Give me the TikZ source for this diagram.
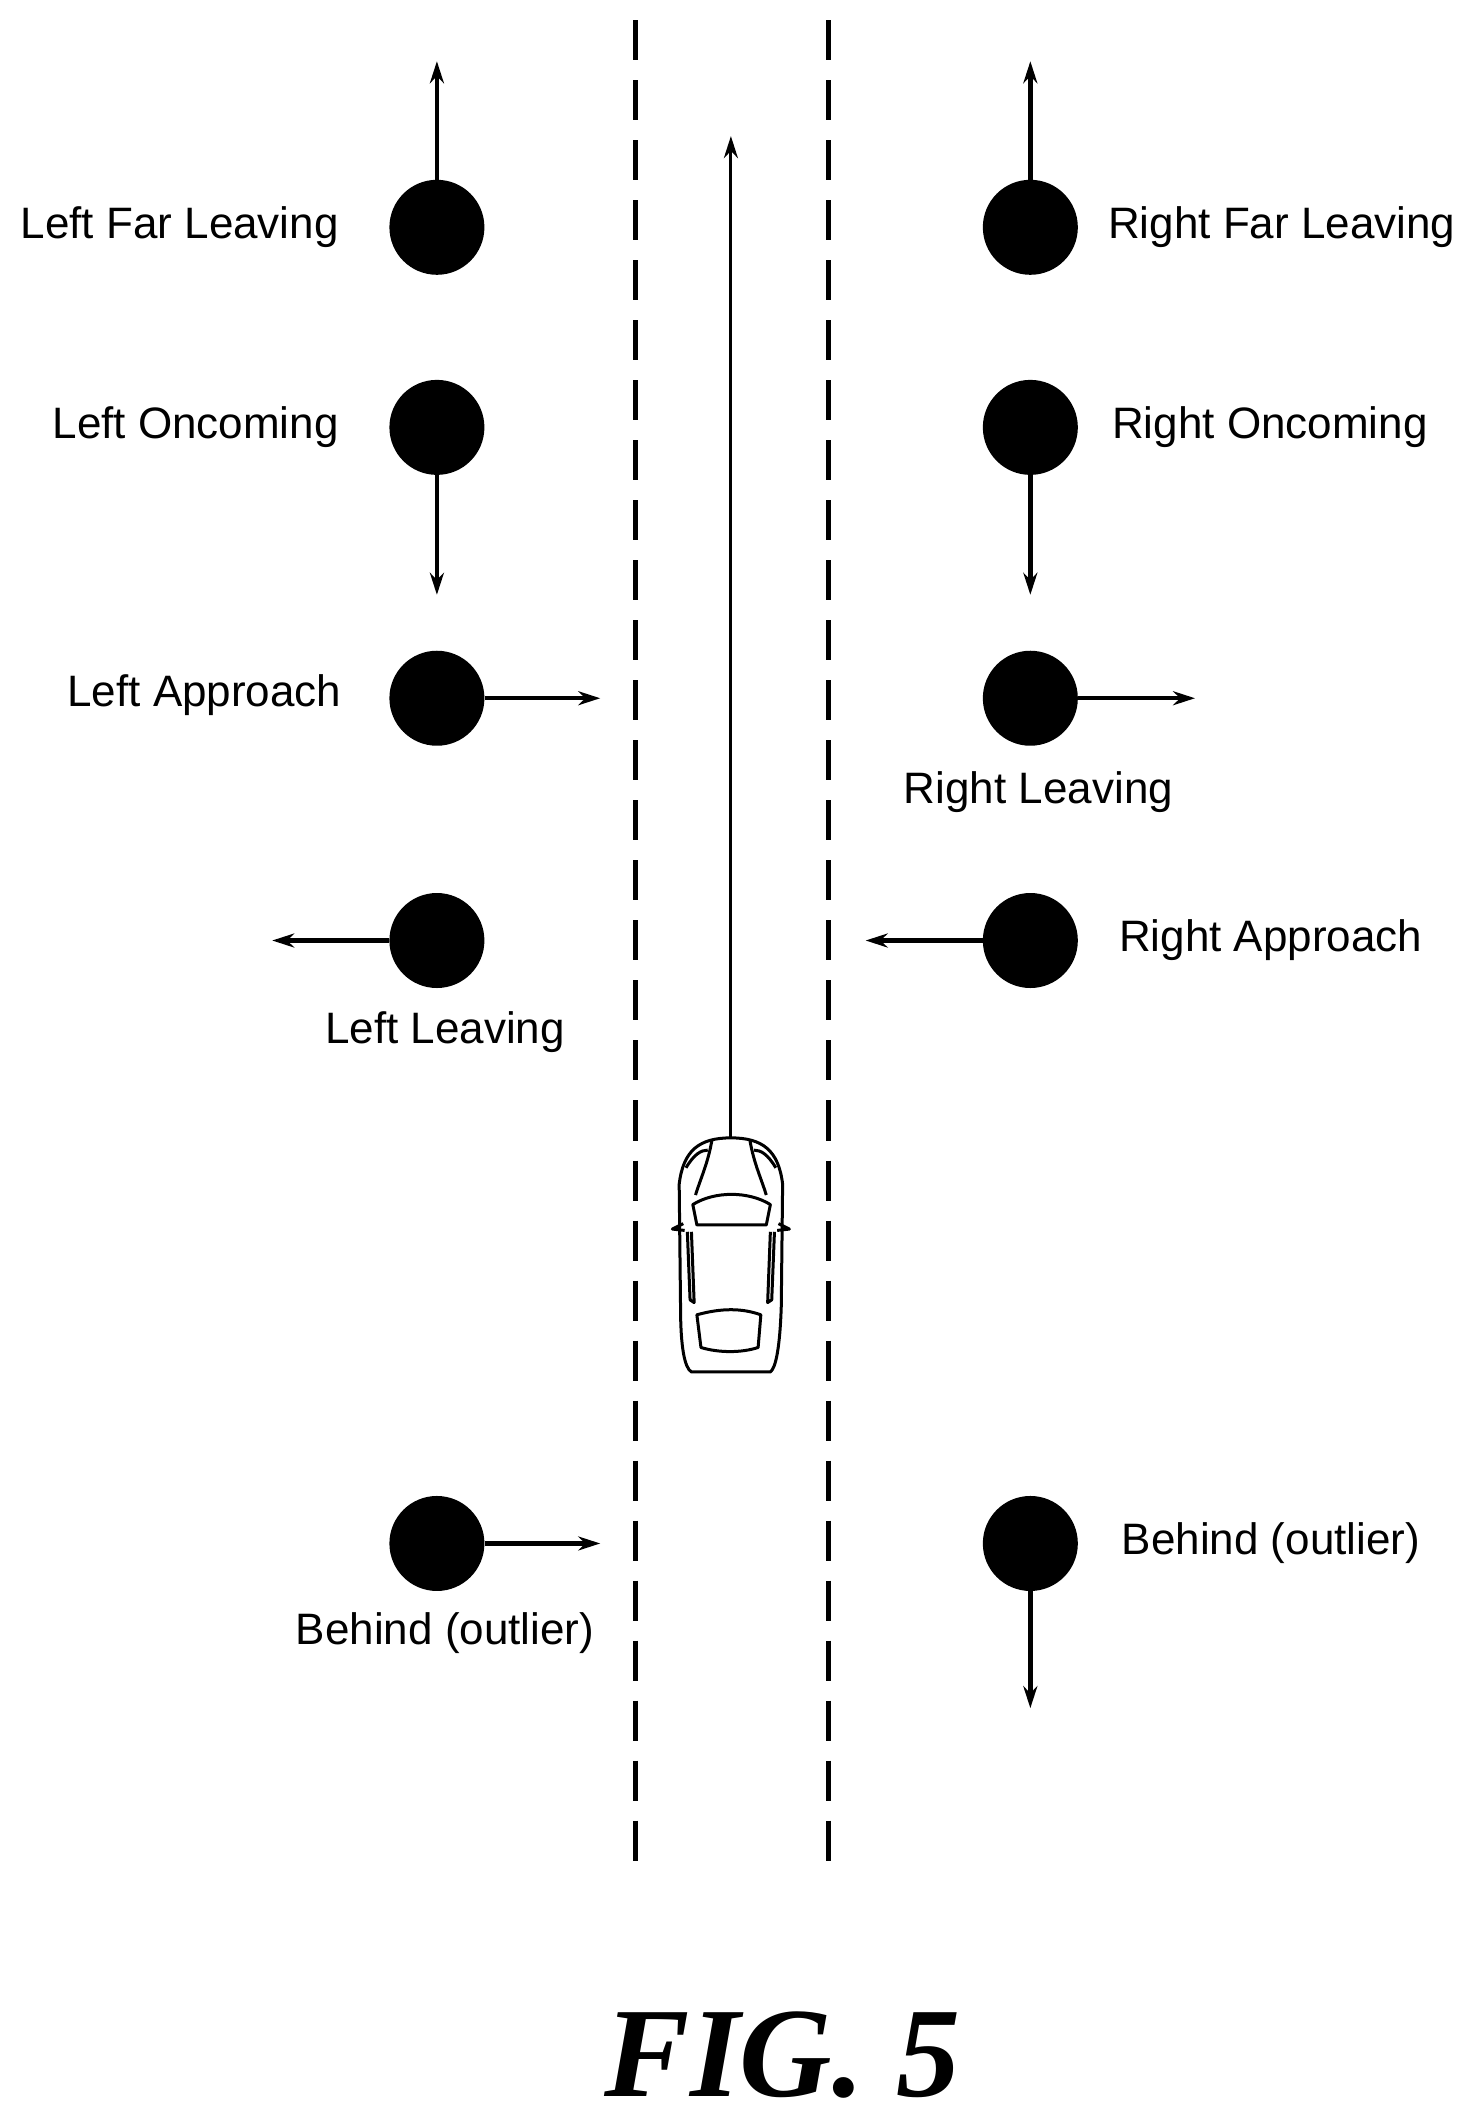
\documentclass[tikz,border=0pt]{standalone}
\usepackage{fontspec}
\setmainfont{Liberation Sans}
\newfontfamily\figfont{Liberation Serif}
\usetikzlibrary{arrows.meta}
\begin{document}
\begin{tikzpicture}[x=1.361pt,y=-1.361pt,
  dot/.style={circle,fill=black,minimum size=95pt,inner sep=0pt},
  mv/.style={line width=4.5pt,-{Stealth[length=22pt,width=14pt]}},
  lane/.style={line width=5pt,dash pattern=on 40pt off 20pt},
  lbl/.style={font=\fontsize{44}{52}\selectfont,inner sep=0pt},
  car/.style={line width=3pt,line join=round}]
\useasboundingbox (0,0) rectangle (1080,1562);
% lanes
\coordinate (l1) at (467,15); \coordinate (l2) at (467,1375);
\coordinate (r1) at (609,15); \coordinate (r2) at (609,1375);
\draw[lane] (l1) -- (l2);
\draw[lane] (r1) -- (r2);
% dots
\node[dot] (lf) at (321,167) {};
\node[dot] (lo) at (321,314) {};
\node[dot] (la) at (321,513) {};
\node[dot] (ll) at (321,691) {};
\node[dot] (lb) at (321,1134) {};
\node[dot] (rf) at (757,167) {};
\node[dot] (ro) at (757,314) {};
\node[dot] (rl) at (757,513) {};
\node[dot] (ra) at (757,691) {};
\node[dot] (rb) at (757,1134) {};
% arrow ends
\coordinate (lfe) at (321,45); \coordinate (rfe) at (757,45);
\coordinate (loe) at (321,437); \coordinate (roe) at (757,437);
\coordinate (lae) at (441,513); \coordinate (rle) at (878,513);
\coordinate (lle) at (200,691); \coordinate (rae) at (636,691);
\coordinate (lbe) at (441,1134); \coordinate (rbe) at (757,1255);
\draw[mv] (lf.north) -- (lfe);
\draw[mv] (rf.north) -- (rfe);
\draw[mv] (lo.south) -- (loe);
\draw[mv] (ro.south) -- (roe);
\draw[mv] (la.east) -- (lae);
\draw[mv] (rl.east) -- (rle);
\draw[mv] (ll.west) -- (lle);
\draw[mv] (ra.west) -- (rae);
\draw[mv] (lb.east) -- (lbe);
\draw[mv] (rb.south) -- (rbe);
% labels
\node[lbl,anchor=east] (t1) at (249,167) {Left Far Leaving};
\node[lbl,anchor=east] (t2) at (249,314) {Left Oncoming};
\node[lbl,anchor=east] (t3) at (251,511) {Left Approach};
\node[lbl] (t4) at (327,758) {Left Leaving};
\node[lbl] (t5) at (327,1200) {Behind (outlier)};
\node[lbl,anchor=west] (t6) at (814,167) {Right Far Leaving};
\node[lbl,anchor=west] (t7) at (817,314) {Right Oncoming};
\node[lbl] (t8) at (763,582) {Right Leaving};
\node[lbl,anchor=west] (t9) at (822,691) {Right Approach};
\node[lbl,anchor=west] (t10) at (824,1134) {Behind (outlier)};
% car
\coordinate (carnose) at (537,837);
\coordinate (cartop) at (537,100);
\draw[line width=3pt,-{Stealth[length=22pt,width=14pt]}] (carnose) -- (cartop);
\draw[car,fill=white] (537,836) .. controls (560,836) and (572,845) .. (575,870)
  -- (574,960) .. controls (573,990) and (570,1005) .. (566,1008)
  -- (508,1008) .. controls (503,1005) and (500,990) .. (500,960)
  -- (499,870) .. controls (502,845) and (514,836) .. (537,836) -- cycle;
\draw[car] (509,885) .. controls (525,875) and (550,875) .. (566,885) -- (563,900) -- (512,900) -- cycle;
\draw[car] (512,966) .. controls (530,961) and (545,961) .. (559,966) -- (557,990) .. controls (545,994) and (528,994) .. (515,990) -- cycle;
\draw[car] (502,899) -- (494,903) -- (503,904);
\draw[car] (572,899) -- (580,903) -- (571,904);
\draw[car] (505,905) -- (507,955) -- (510,957) -- (508,905);
\draw[car] (569,905) -- (567,955) -- (564,957) -- (566,905);
\draw[car] (523,838) .. controls (520,855) and (515,865) .. (511,878);
\draw[car] (551,838) .. controls (554,855) and (559,865) .. (563,878);
\draw[car] (504,858) .. controls (510,848) and (515,845) .. (520,845);
\draw[car] (570,858) .. controls (564,848) and (559,845) .. (554,845);
% caption
\node[font=\figfont\bfseries\itshape\fontsize{128}{150}\selectfont] (fig) at (575,1510) {FIG. 5};
\end{tikzpicture}
\end{document}
